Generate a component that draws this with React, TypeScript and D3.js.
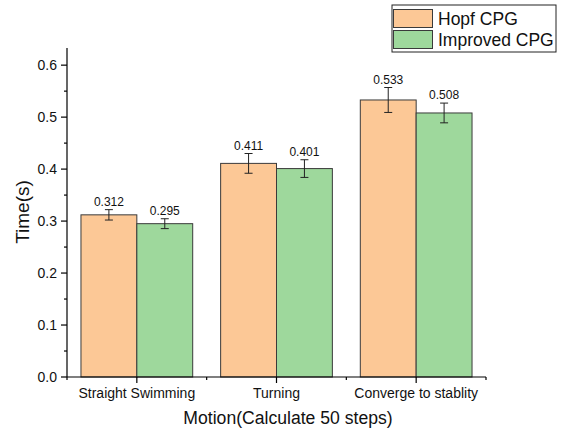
// @ts-nocheck
import * as d3 from 'd3';

const categories = ['Straight Swimming', 'Turning', 'Converge to stablity'];
const seriesNames = ['Hopf CPG', 'Improved CPG'];
const hopfValues = [0.312, 0.411, 0.533];
const improvedValues = [0.295, 0.401, 0.508];
const hopfErrors = [0.010, 0.019, 0.024];
const improvedErrors = [0.0095, 0.017, 0.019];
const yTicks = [0, 0.1, 0.2, 0.3, 0.4, 0.5, 0.6];

const colors = ['#FCC896', '#9ED89C'];
const font = 'Arial, "Liberation Sans", sans-serif';

export default function App() {
  const width = 569;
  const height = 429;
  const left = 67, right = 486, top = 48, bottom = 377;

  const x = d3.scaleBand().domain(categories).range([left, right]).paddingInner(0).paddingOuter(0);
  const inner = d3.scaleBand().domain(seriesNames).range([0, x.bandwidth()]).paddingOuter(0.25).paddingInner(0);
  const y = d3.scaleLinear().domain([0, 0.633]).range([bottom, top]);

  const minorTicks = d3.range(0.05, 0.65, 0.1);
  const series = [
    { name: seriesNames[0], values: hopfValues, errors: hopfErrors, color: colors[0] },
    { name: seriesNames[1], values: improvedValues, errors: improvedErrors, color: colors[1] },
  ];

  return (
    <svg width={width} height={height} style={{ position: 'absolute', left: 0, top: 0 }} fontFamily={font}>
      <rect width={width} height={height} fill="#fff" />
      {series.map((s) =>
        categories.map((c, i) => {
          const bx = x(c) + inner(s.name);
          const bw = inner.bandwidth();
          const v = s.values[i];
          const e = s.errors[i];
          const cx = bx + bw / 2;
          return (
            <g key={s.name + c}>
              <rect x={bx} y={y(v)} width={bw} height={y(0) - y(v)} fill={s.color} stroke="#3a3a3a" strokeWidth={1} />
              <line x1={cx} x2={cx} y1={y(v + e)} y2={y(v - e)} stroke="#222" strokeWidth={1} />
              <line x1={cx - 4} x2={cx + 4} y1={y(v + e)} y2={y(v + e)} stroke="#222" strokeWidth={1} />
              <line x1={cx - 4} x2={cx + 4} y1={y(v - e)} y2={y(v - e)} stroke="#222" strokeWidth={1} />
              <text x={cx} y={y(v + e) - 4} textAnchor="middle" fontSize={12} fill="#111">
                {v.toFixed(3)}
              </text>
            </g>
          );
        })
      )}

      {/* y axis */}
      <line x1={left} x2={left} y1={top} y2={bottom} stroke="#000" strokeWidth={1.2} />
      {yTicks.map((t) => (
        <g key={'y' + t}>
          <line x1={left - 6} x2={left} y1={y(t)} y2={y(t)} stroke="#000" strokeWidth={1.2} />
          <text x={left - 10} y={y(t)} dy="0.35em" textAnchor="end" fontSize={14} fill="#111">
            {t.toFixed(1)}
          </text>
        </g>
      ))}
      {minorTicks.map((t) => (
        <line key={'ym' + t} x1={left - 3} x2={left} y1={y(t)} y2={y(t)} stroke="#000" strokeWidth={1.2} />
      ))}
      <text transform="translate(29,212) rotate(-90)" textAnchor="middle" fontSize={19} fill="#111">
        Time(s)
      </text>

      {/* x axis */}
      <line x1={left} x2={right} y1={bottom} y2={bottom} stroke="#000" strokeWidth={1.2} />
      {categories.map((c) => (
        <g key={'x' + c}>
          <line x1={x(c) + x.bandwidth() / 2} x2={x(c) + x.bandwidth() / 2} y1={bottom} y2={bottom + 6} stroke="#000" strokeWidth={1.2} />
          <text x={x(c) + x.bandwidth() / 2} y={bottom + 21} textAnchor="middle" fontSize={14} fill="#111">
            {c}
          </text>
        </g>
      ))}
      {[...categories.map((c) => x(c)), right].map((bx, i) => (
        <line key={'xm' + i} x1={bx} x2={bx} y1={bottom} y2={bottom + 3} stroke="#000" strokeWidth={1.2} />
      ))}
      <text x={288} y={424} textAnchor="middle" fontSize={17.6} fill="#111">
        Motion(Calculate 50 steps)
      </text>

      {/* legend */}
      <rect x={392} y={5} width={164} height={47} fill="#fff" stroke="#222" strokeWidth={1} />
      {series.map((s, i) => (
        <g key={'lg' + s.name}>
          <rect x={393.5} y={9.5 + i * 21} width={39} height={18} fill={s.color} stroke="#3a3a3a" strokeWidth={1} />
          <text x={438} y={25 + i * 21} fontSize={17.5} fill="#111">
            {s.name}
          </text>
        </g>
      ))}
    </svg>
  );
}
